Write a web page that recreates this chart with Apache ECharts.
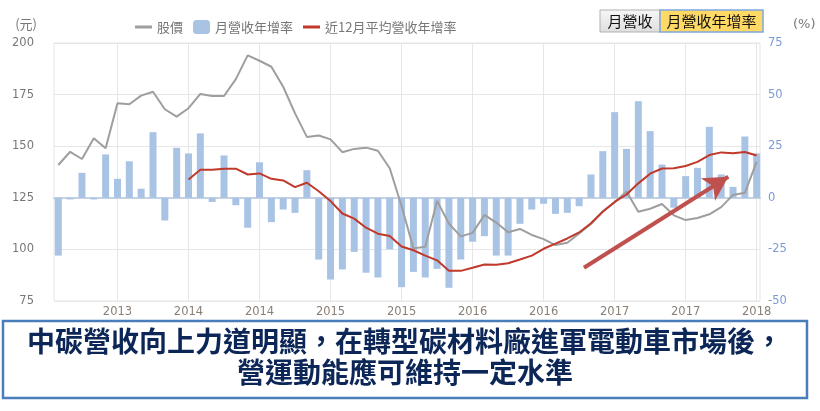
<!DOCTYPE html>
<html><head><meta charset="utf-8">
<script src="https://cdn.jsdelivr.net/npm/echarts@6/dist/echarts.min.js"></script>
<style>html,body{margin:0;padding:0;background:#fff}#c{width:820px;height:411px}</style>
</head><body><div id="c"></div>
<script>
// x tick labels at month positions 6,12,...,60
const xTickLabels = ['2013','2014','2014','2015','2015','2016','2016','2017','2017','2018'];
const xTickPositions = [6,12,18,24,30,36,42,48,54,60];
// 股價 (left axis, 元)
const price = [140.9,147.3,143.8,153.8,149,170.8,170.3,174.5,176.4,167.9,
  164.3,168.4,175.3,174.3,174.3,182.5,194,191.4,188.5,178.8,
  165.9,154.5,155.2,153.3,147.1,148.7,149.3,147.8,139.3,121,
  100.5,101.3,123.5,112.5,106.3,108,116.7,113,108.3,109.9,
  107,105,102.1,103.2,107.7,112.3,118.5,122.8,128,118.2,
  119.7,122,116.5,114.2,115.2,117,120.5,126.4,127.4,142.5];
// 月營收年增率 (right axis, %)
const revenueYoY = [-28,-0.8,12.1,-0.8,21,9.2,17.7,4.4,31.8,-11,
  24.2,21.5,31.2,-2,20.5,-3.6,-14.5,17.2,-11.8,-5.7,
  -7.3,13.4,-29.9,-39.6,-34.7,-26.2,-36.3,-38.6,-25,-43.3,
  -35.9,-38.6,-34.4,-43.6,-29.9,-21.3,-18.6,-28,-28,-12.6,
  -5.7,-2.9,-7.8,-7.3,-4.1,11.3,22.6,41.5,23.7,46.8,
  32.3,16.1,-4.8,10.5,14.5,34.4,11.3,5.3,29.7,21.5];
// 近12月平均營收年增率 (right axis, %)
const avg12YoY = [null,null,null,null,null,null,null,null,null,null,
  null,8.9,13.6,13.6,14.1,14.1,11.3,11.8,9.2,8.4,
  5.2,7.3,3.2,-1.6,-7.6,-10.1,-14.5,-17.4,-18.5,-23.6,
  -25.4,-28,-30.3,-35.4,-35.4,-33.9,-32.3,-32.4,-31.7,-29.9,
  -28,-24.7,-22.2,-19.7,-16.8,-12.3,-6.8,-2,1.6,7,
  11.7,14.2,14.3,15.4,17.4,20.7,22,21.6,22.2,20.5];
// annotation arrow (data coords: month position, % axis)
const arrowFrom = [45.41, -33.9];
const arrowTo = [57.6, 10.2];

const toPairs = arr => arr.map((v, i) => [i + 1, v]);
const axisFont = 'DejaVu Sans';
const cjk = '"Noto Sans CJK TC","Noto Sans CJK SC",sans-serif';
const linePath = 'path://M0,0H17V3H0Z';

const chart = echarts.init(document.getElementById('c'));
chart.setOption({
  animation: false,
  backgroundColor: '#fff',
  grid: {left: 54, right: 60, top: 43, bottom: 110, show: true, borderColor: '#e6e6e6', borderWidth: 1, backgroundColor: 'transparent'},
  legend: {
    left: 130, top: 15, itemWidth: 17, itemHeight: 14, itemGap: 10,
    textStyle: {color: '#777', fontSize: 13, fontFamily: cjk},
    data: [{name: '股價', icon: linePath}, {name: '月營收年增率', icon: 'roundRect'}, {name: '近12月平均營收年增率', icon: linePath}]
  },
  xAxis: {
    type: 'value', min: 0.637, max: 60.28,
    axisLine: {show: true, lineStyle: {color: '#c4d2e4', width: 2}},
    axisTick: {show: false, customValues: xTickPositions},
    splitLine: {show: true, lineStyle: {color: '#e6e6e6', width: 1}},
    axisLabel: {
      customValues: xTickPositions,
      formatter: v => { const k = xTickPositions.indexOf(Math.round(v)); return k >= 0 ? xTickLabels[k] : ''; },
      color: '#8a7f74', fontSize: 11.5, fontFamily: axisFont, margin: 5
    }
  },
  yAxis: [
    {
      type: 'value', min: 75, max: 200, interval: 25, position: 'left',
      name: '(元)', nameLocation: 'end', nameGap: 12,
      nameTextStyle: {color: '#777', fontSize: 13, fontFamily: cjk, align: 'right', padding: [0, 17, 0, 0]},
      axisLine: {show: false}, axisTick: {show: false},
      splitLine: {lineStyle: {color: '#e6e6e6', width: 1}},
      axisLabel: {color: '#777', fontSize: 11.5, fontFamily: axisFont, margin: 20}
    },
    {
      type: 'value', min: -50, max: 75, interval: 25, position: 'right',
      name: '(%)', nameLocation: 'end', nameGap: 12,
      nameTextStyle: {color: '#777', fontSize: 13, fontFamily: axisFont, align: 'left', padding: [0, 0, 0, 33]},
      axisLine: {show: false}, axisTick: {show: false}, splitLine: {show: false},
      axisLabel: {color: '#7b9bd6', fontSize: 11.5, fontFamily: axisFont, margin: 8}
    }
  ],
  series: [
    {
      name: '月營收年增率', type: 'bar', yAxisIndex: 1, barWidth: 7,
      itemStyle: {color: '#a9c3e4'},
      data: toPairs(revenueYoY),
      markLine: {
        silent: true, animation: false,
        symbol: ['none', 'arrow'], symbolSize: [20, 24],
        lineStyle: {color: '#c0504d', width: 4, type: 'solid'},
        label: {show: false},
        data: [[{coord: arrowFrom}, {coord: arrowTo}]]
      }
    },
    {
      name: '股價', type: 'line', yAxisIndex: 0, showSymbol: false, symbol: 'none',
      lineStyle: {color: '#9e9e9e', width: 2}, itemStyle: {color: '#9e9e9e'},
      data: toPairs(price)
    },
    {
      name: '近12月平均營收年增率', type: 'line', yAxisIndex: 1, showSymbol: false, symbol: 'none',
      lineStyle: {color: '#c0392b', width: 2}, itemStyle: {color: '#c0392b'},
      data: toPairs(avg12YoY)
    }
  ],
  graphic: [
    {type: 'rect', shape: {x: 600, y: 10, width: 60, height: 22},
     style: {fill: new echarts.graphic.LinearGradient(0, 0, 0, 1, [{offset: 0, color: '#f7f7f7'}, {offset: 1, color: '#dedede'}]), stroke: '#b0b0b0', lineWidth: 1}},
    {type: 'text', x: 630, y: 21, style: {text: '月營收', fontSize: 15, fontFamily: cjk, fill: '#111', align: 'center', verticalAlign: 'middle'}},
    {type: 'rect', shape: {x: 660, y: 10, width: 103, height: 22},
     style: {fill: '#ffd966', stroke: '#7ea6e0', lineWidth: 1.5}},
    {type: 'text', x: 711.5, y: 21, style: {text: '月營收年增率', fontSize: 15, fontFamily: cjk, fill: '#111', align: 'center', verticalAlign: 'middle'}},
    {type: 'rect', shape: {x: 3, y: 321, width: 804, height: 77},
     style: {fill: '#fff', stroke: '#4a7ebb', lineWidth: 2.5}},
    {type: 'text', x: 405, y: 341, style: {text: '中碳營收向上力道明顯，在轉型碳材料廠進軍電動車市場後，', fontSize: 28, fontWeight: 'bold', fontFamily: cjk, fill: '#0c2657', align: 'center', verticalAlign: 'middle'}},
    {type: 'text', x: 405, y: 372, style: {text: '營運動能應可維持一定水準', fontSize: 28, fontWeight: 'bold', fontFamily: cjk, fill: '#0c2657', align: 'center', verticalAlign: 'middle'}}
  ]
});
</script></body></html>
